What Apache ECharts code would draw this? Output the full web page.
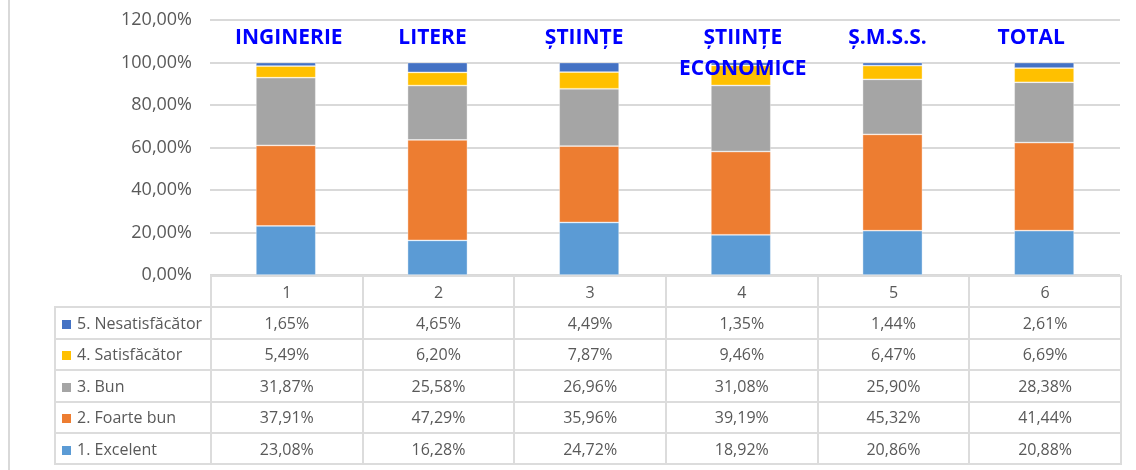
<!DOCTYPE html>
<html>
<head>
<meta charset="utf-8">
<script src="https://cdn.jsdelivr.net/npm/echarts@6/dist/echarts.min.js"></script>
<style>
  html, body { margin: 0; padding: 0; background: #fff; }
  #wrap { position: relative; width: 1136px; height: 470px; overflow: hidden; background: #fff; }
  #chart { position: absolute; left: 0; top: 0; width: 1136px; height: 470px; }
  #frame { position: absolute; left: 8px; top: 0; width: 0; height: 470px; border-left: 2px solid #D9D9D9; }
  #tbl { position: absolute; left: 54px; top: 275px; border-collapse: collapse; table-layout: fixed;
         font-family: 'Open Sans', sans-serif; font-size: 16px; color: #595959; }
  #tbl td { border: 2px solid #DCDCDC; text-align: center; padding: 0; white-space: nowrap; overflow: hidden; }
  #tbl td.lbl { text-align: left; padding-left: 6px; }
  #tbl td.blank { border: none; border-bottom: 2px solid #DCDCDC; border-right: 2px solid #DCDCDC; }
  .key { display: inline-block; width: 9px; height: 9px; margin-right: 6px; vertical-align: 0px; }
</style>
</head>
<body>
<div id="wrap">
  <div id="chart"></div>
  <div id="frame"></div>
  <table id="tbl"></table>
</div>
<script>
// ---- data ----
const categories = ['1', '2', '3', '4', '5', '6'];
const facultyLabels = ['INGINERIE', 'LITERE', 'ȘTIINȚE', 'ȘTIINȚE\nECONOMICE', 'Ș.M.S.S.', 'TOTAL'];
const seriesNames = ['1. Excelent', '2. Foarte bun', '3. Bun', '4. Satisfăcător', '5. Nesatisfăcător'];
const excelent       = [23.08, 16.28, 24.72, 18.92, 20.86, 20.88];
const foarteBun      = [37.91, 47.29, 35.96, 39.19, 45.32, 41.44];
const bun            = [31.87, 25.58, 26.96, 31.08, 25.90, 28.38];
const satisfacator   = [5.49, 6.20, 7.87, 9.46, 6.47, 6.69];
const nesatisfacator = [1.65, 4.65, 4.49, 1.35, 1.44, 2.61];
const yTicks = { min: 0, max: 120, interval: 20 };
const colors = ['#5B9BD5', '#ED7D31', '#A5A5A5', '#FFC000', '#4472C4'];
// horizontal nudge of the header text boxes (layout only, px)
const labelNudge = [3, -5, -5, 2, -5, -13];

const seriesData = [excelent, foarteBun, bun, satisfacator, nesatisfacator];
const fmt = v => v.toFixed(2).replace('.', ',') + '%';

const rich = {};
labelNudge.forEach((n, i) => {
  rich['t' + i] = {
    color: '#0000FF', fontWeight: 'bold', fontSize: 21, lineHeight: 31, fontFamily: 'Open Sans',
    padding: n >= 0 ? [0, 0, 0, 2 * n] : [0, -2 * n, 0, 0]
  };
});

const chart = echarts.init(document.getElementById('chart'), null, { renderer: 'canvas' });
chart.setOption({
  animation: false,
  backgroundColor: 'transparent',
  grid: { left: 210, right: 16, top: 20, bottom: 195, containLabel: false },
  xAxis: [
    {
      type: 'category', data: categories, position: 'bottom',
      axisLine: { show: false }, axisTick: { show: false }, axisLabel: { show: false }
    },
    {
      type: 'category', data: facultyLabels, position: 'top', z: 10,
      axisLine: { show: false }, axisTick: { show: false }, splitLine: { show: false },
      axisLabel: {
        inside: true, interval: 0, margin: 3,
        color: '#0000FF', fontWeight: 'bold', fontSize: 21, lineHeight: 31, fontFamily: 'Open Sans',
        formatter: (v, idx) => v.split('\n').map(s => '{t' + idx + '|' + s + '}').join('\n'),
        rich
      }
    }
  ],
  yAxis: {
    type: 'value', min: yTicks.min, max: yTicks.max, interval: yTicks.interval,
    axisLine: { show: false }, axisTick: { show: false },
    splitLine: { lineStyle: { color: '#D9D9D9', width: 2 } },
    axisLabel: { formatter: fmt, color: '#595959', fontSize: 18, fontFamily: 'Open Sans', margin: 18 }
  },
  series: seriesNames.map((name, i) => ({
    name, type: 'bar', stack: 'total', xAxisIndex: 0,
    barWidth: '39.5%',
    data: seriesData[i],
    itemStyle: { color: colors[i], borderColor: 'rgba(255,255,255,0.5)', borderWidth: 0.75 }
  }))
});

// ---- data table (text) ----
const tbl = document.getElementById('tbl');
const firstW = 156, colW = (1120 - 210) / categories.length;
let html = '<colgroup><col style="width:' + firstW + 'px">' +
  categories.map(() => '<col style="width:' + colW + 'px">').join('') + '</colgroup>';
html += '<tr style="height:31px"><td class="blank"></td>' + categories.map(c => '<td>' + c + '</td>').join('') + '</tr>';
const order = [4, 3, 2, 1, 0];
const rowH = [31.5, 31.5, 31.5, 31.5, 31];
order.forEach((si, r) => {
  html += '<tr style="height:' + rowH[r] + 'px"><td class="lbl"><span class="key" style="background:' + colors[si] + '"></span>' +
    seriesNames[si] + '</td>' + seriesData[si].map(v => '<td>' + fmt(v) + '</td>').join('') + '</tr>';
});
tbl.innerHTML = html;
</script>
</body>
</html>
